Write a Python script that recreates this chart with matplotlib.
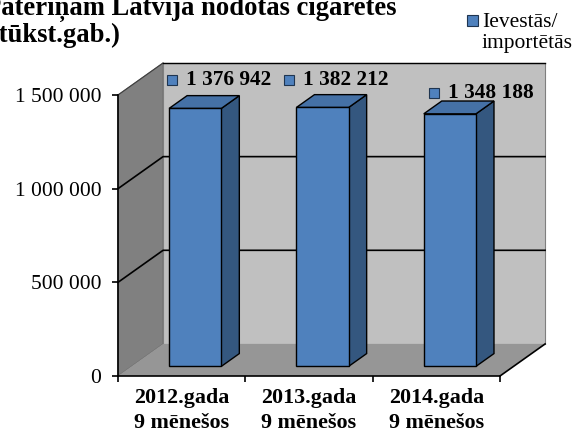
import numpy as np
import matplotlib.pyplot as plt
from matplotlib.patches import Polygon, Rectangle
from matplotlib.transforms import offset_copy

plt.rcParams['font.family'] = ['Liberation Serif', 'DejaVu Serif']

categories = ['2012.gada\n9 mēnešos', '2013.gada\n9 mēnešos', '2014.gada\n9 mēnešos']
values = [1376942, 1382212, 1348188]
value_labels = ['1 376 942', '1 382 212', '1 348 188']
yticks = [0, 500000, 1000000, 1500000]
ytick_labels = ['0', '500 000', '1 000 000', '1 500 000']
title_lines = ['Patēriņam Latvijā nodotās cigaretes', '(tūkst.gab.)']
series_lines = ['Ievestās/', 'importētās']

# 3d look: offset of back wall in data units
ymax = 1500000
dx, dy = 0.354, 171000
bar_w = 0.41
bar_front, bar_depth = 0.3, 0.4

front_c = '#4F81BD'
side_c = '#34577F'
top_c = '#4571A6'

fig = plt.figure(figsize=(5.73, 4.37), dpi=100)
ax = fig.add_axes([118 / 573, 61 / 437, 382 / 573, 281 / 437])
ax.set_xlim(0, 3)
ax.set_ylim(0, ymax)


def poly(pts, fc, ec='none', lw=0.8, z=1):
    ax.add_patch(Polygon(pts, closed=True, facecolor=fc, edgecolor=ec,
                         linewidth=lw, zorder=z, clip_on=False))


# walls and floor
poly([(0, 0), (0, ymax), (dx, ymax + dy), (dx, dy)], '#808080', '#6E6E6E', z=0.5)
poly([(dx, dy), (dx, ymax + dy), (3 + dx, ymax + dy), (3 + dx, dy)], '#C0C0C0', '#7F7F7F', z=0.5)
poly([(0, 0), (3, 0), (3 + dx, dy), (dx, dy)], '#969696', 'none', z=0.6)
ax.plot([3, 3 + dx], [0, dy], color='black', lw=1.2, clip_on=False, zorder=0.7)

# gridlines
for v in yticks[1:3]:
    ax.plot([0, dx, 3 + dx], [v, v + dy, v + dy], color='black', lw=1.2,
            clip_on=False, zorder=0.8)
ax.plot([0, dx], [ymax, ymax + dy], color='#404040', lw=0.8, clip_on=False, zorder=0.8)
ax.plot([dx, 3 + dx], [ymax + dy, ymax + dy], color='black', lw=1.0, clip_on=False, zorder=0.8)

# bars
x = np.arange(len(values)) + 0.5
ox, oy = bar_front * dx, bar_front * dy
bx, by = bar_depth * dx, bar_depth * dy
ax.bar(x + ox, values, width=bar_w, bottom=oy, color=front_c,
       edgecolor='black', linewidth=1.0, zorder=3)
for xi, v in zip(x, values):
    l, r = xi + ox - bar_w / 2, xi + ox + bar_w / 2
    t = v + oy
    poly([(r, oy), (r, t), (r + bx, t + by), (r + bx, oy + by)], side_c, 'black', 1.0, 2.5)
    poly([(l, t), (r, t), (r + bx, t + by), (l + bx, t + by)], top_c, 'black', 1.0, 2.5)

# data labels (legend key + value), offset in pixels from the bar top
label_off = [(-32, 16), (-43, 15), (-25, 8)]
for xi, v, s, (px, py) in zip(x, values, value_labels, label_off):
    ax_x, ax_y = xi + ox + bx / 2, v + oy + by
    key_tr = offset_copy(ax.transData, fig=fig, x=px, y=py, units='dots')
    txt_tr = offset_copy(ax.transData, fig=fig, x=px + 14, y=py, units='dots')
    ax.plot([ax_x], [ax_y], marker='s', ms=7, mfc=front_c, mec='#1F3550',
            mew=0.8, clip_on=False, zorder=5, transform=key_tr)
    ax.text(ax_x, ax_y, s, transform=txt_tr, ha='left', va='center',
            fontsize=15.3, fontweight='bold', zorder=5)

# axes
for sp in ['top', 'right']:
    ax.spines[sp].set_visible(False)
ax.spines['left'].set_linewidth(1.2)
ax.spines['bottom'].set_linewidth(1.2)
ax.set_facecolor('none')
ax.set_yticks(yticks)
ax.set_yticklabels(ytick_labels, fontsize=15.5)
ax.set_xticks([0, 1, 2, 3])
ax.set_xticklabels([])
ax.set_xticks(x, minor=True)
ax.set_xticklabels(categories, minor=True, fontsize=15.8, fontweight='bold',
                   linespacing=1.32)
ax.tick_params(axis='x', which='minor', length=0, pad=9)
ax.tick_params(axis='x', which='major', length=4.5, width=1.2, direction='out')
ax.tick_params(axis='y', length=4, width=1.2, pad=8)

# title (cut at the top-left edge, as in the source image)
fig.text(-15 / 573, 1 - 15 / 437, title_lines[0], ha='left', va='baseline',
         fontsize=19.2, fontweight='bold')
fig.text(-9 / 573, 1 - 42 / 437, title_lines[1], ha='left', va='baseline',
         fontsize=19.2, fontweight='bold')

# legend
fig.patches.append(Rectangle((467 / 573, 1 - 26 / 437), 11 / 573, 11 / 437,
                             transform=fig.transFigure, facecolor=front_c,
                             edgecolor='#1F3550', linewidth=0.8))
fig.text(482 / 573, 1 - 27 / 437, series_lines[0], ha='left', va='baseline', fontsize=15.5)
fig.text(482 / 573, 1 - 48 / 437, series_lines[1], ha='left', va='baseline', fontsize=15.5)

fig.savefig('out.png', dpi=100)
